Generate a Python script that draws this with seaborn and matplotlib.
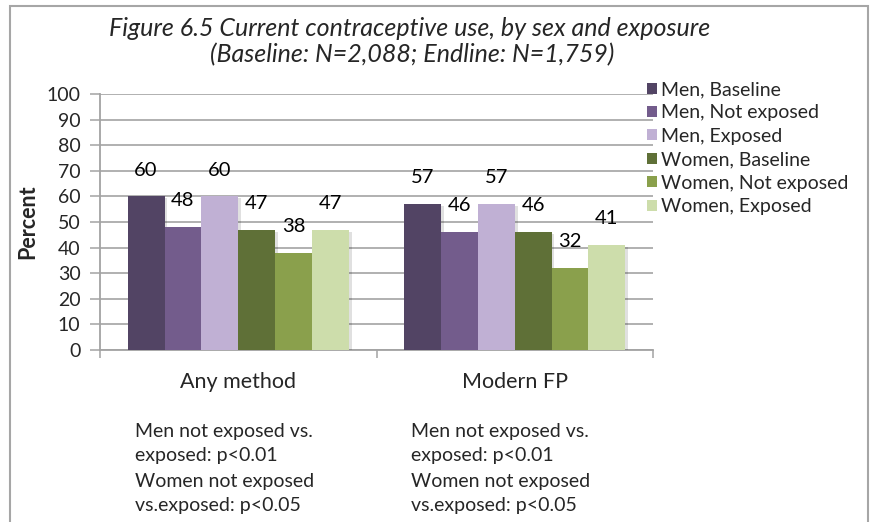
import matplotlib
matplotlib.use("Agg")
import matplotlib.pyplot as plt
import matplotlib.patheffects as pe
from matplotlib.patches import Rectangle
import pandas as pd
import seaborn as sns

# --- data ---------------------------------------------------------------
methods = ["Any method", "Modern FP"]
groups = ["Men, Baseline", "Men, Not exposed", "Men, Exposed",
          "Women, Baseline", "Women, Not exposed", "Women, Exposed"]
any_method = [60, 48, 60, 47, 38, 47]
modern_fp = [57, 46, 57, 46, 32, 41]
colors = ["#524464", "#735c8c", "#c0b0d4", "#5f7037", "#8aa04c", "#cdddab"]
y_ticks = list(range(0, 101, 10))
notes = ["Men not exposed vs.", "exposed: p<0.01",
         "Women not exposed", "vs.exposed: p<0.05"]

rows = []
for g, a, m in zip(groups, any_method, modern_fp):
    rows.append({"method": methods[0], "group": g, "pct": a})
    rows.append({"method": methods[1], "group": g, "pct": m})
df = pd.DataFrame(rows)

# --- style --------------------------------------------------------------
sns.set_theme(style="white")
plt.rcParams["font.family"] = ["Lato", "DejaVu Sans"]
W, H = 871, 522
fig = plt.figure(figsize=(W / 100, H / 100), dpi=100)
fig.patch.set_facecolor("white")

def fx(px):
    return px / W

def fy(py):
    return 1 - py / H

ax = fig.add_axes([fx(100), fy(350), fx(653) - fx(100), fy(94) - fy(350)])

sns.barplot(data=df, x="method", y="pct", hue="group", hue_order=groups,
            order=methods, palette=colors, width=0.8, saturation=1,
            edgecolor="none", linewidth=0, ax=ax, zorder=3)

grid_c = "#a3a3a3"
ax.set_ylim(0, 100)
ax.set_xlim(-0.5, 1.5)
ax.set_yticks(y_ticks)
ax.set_yticklabels([str(t) for t in y_ticks], fontsize=14)
ax.yaxis.grid(True, color=grid_c, linewidth=1.2, zorder=0)
ax.set_axisbelow(True)
ax.tick_params(axis="y", which="major", direction="out", length=7,
               width=1.1, color=grid_c, pad=7, left=True)
ax.tick_params(axis="x", which="major", length=0, pad=16, labelsize=15.5)
ax.set_xticks([-0.5, 0.5, 1.5], minor=True)
ax.tick_params(axis="x", which="minor", direction="out", length=6,
               width=1.1, color=grid_c, bottom=True)
for s in ["top", "right"]:
    ax.spines[s].set_visible(False)
for s in ["left", "bottom"]:
    ax.spines[s].set_color(grid_c)
    ax.spines[s].set_linewidth(1.3)
ax.set_xlabel("")
ax.set_ylabel("Percent", fontsize=15.5, fontweight="bold", labelpad=6)

# soft shadow behind bars and value labels above them
for cont in ax.containers:
    for bar in cont:
        bar.set_path_effects([pe.SimplePatchShadow(offset=(2, -1.5),
                                                   shadow_rgbFace="#000000",
                                                   alpha=0.12),
                              pe.Normal()])
        h = bar.get_height()
        ax.annotate(f"{h:.0f}", (bar.get_x() + bar.get_width() / 2, h),
                    xytext=(0, 19), textcoords="offset points",
                    ha="center", va="center", fontsize=14.5, color="black",
                    zorder=5)

# legend on the right
leg = ax.get_legend()
if leg is not None:
    leg.remove()
handles, labels = ax.get_legend_handles_labels()
fig.legend(handles, labels, loc="upper left",
           bbox_to_anchor=(fx(647), fy(81)), frameon=False,
           fontsize=14, handlelength=0.5, handleheight=0.5,
           handletextpad=0.2, labelspacing=0.33, borderpad=0,
           borderaxespad=0)

# title
fig.text(fx(410), fy(28), "Figure 6.5 Current contraceptive use, by sex and exposure",
         ha="center", va="center", fontsize=18, style="italic")
fig.text(fx(412), fy(55), "(Baseline: N=2,088; Endline: N=1,759)",
         ha="center", va="center", fontsize=18, style="italic")

# significance notes under each category
note_y = [432, 455, 482, 505]
for x0 in (135, 411):
    for txt, yy in zip(notes, note_y):
        fig.text(fx(x0), fy(yy), txt, ha="left", va="center", fontsize=14)

# outer chart frame
fig.patches.append(Rectangle((fx(10), fy(540)), fx(868) - fx(10), fy(6) - fy(540),
                             transform=fig.transFigure, fill=False,
                             edgecolor="#a6a6a6", linewidth=1.5))

fig.savefig("out.png", dpi=100)
